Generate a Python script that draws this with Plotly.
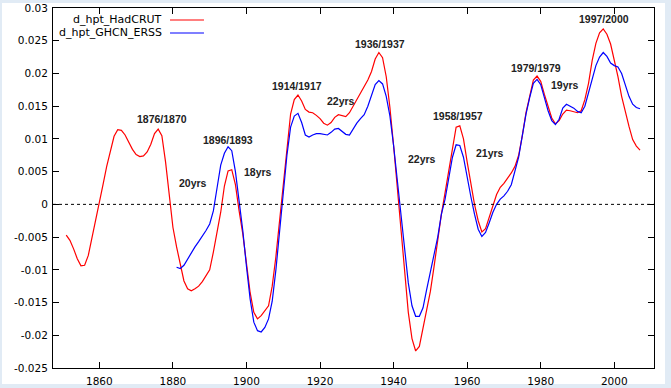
import plotly.graph_objects as go

# HadCRUT (red)
had_years = list(range(1851, 2008))
had_vals = [
    -0.0047, -0.0055, -0.0068, -0.0083, -0.0094, -0.0093, -0.0078, -0.0052, -0.0025, 0.0003,   # 1851-1860
    0.0030, 0.0058, 0.0083, 0.0104, 0.0114, 0.0113, 0.0106, 0.0095, 0.0084, 0.0076,            # 1861-1870
    0.0073, 0.0074, 0.0080, 0.0092, 0.0108, 0.0115, 0.0105, 0.0065, 0.0010, -0.0035,           # 1871-1880
    -0.0065, -0.0092, -0.0117, -0.0129, -0.0132, -0.0129, -0.0125, -0.0118, -0.0110, -0.0100,  # 1881-1890
    -0.0073, -0.0045, -0.0012, 0.0028, 0.0051, 0.0053, 0.0030, -0.0010, -0.0045, -0.0090,      # 1891-1900
    -0.0135, -0.0165, -0.0175, -0.0170, -0.0163, -0.0155, -0.0125, -0.0080, -0.0025, 0.0030,   # 1901-1910
    0.0090, 0.0138, 0.0160, 0.0167, 0.0158, 0.0145, 0.0141, 0.0140, 0.0136, 0.0131,            # 1911-1920
    0.0124, 0.0121, 0.0125, 0.0133, 0.0137, 0.0136, 0.0134, 0.0140, 0.0150, 0.0161,            # 1921-1930
    0.0171, 0.0181, 0.0190, 0.0203, 0.0222, 0.0232, 0.0224, 0.0195, 0.0148, 0.0090,            # 1931-1940
    0.0025, -0.0040, -0.0110, -0.0165, -0.0205, -0.0224, -0.0217, -0.0190, -0.0160, -0.0133,   # 1941-1950
    -0.0095, -0.0052, -0.0015, 0.0018, 0.0050, 0.0088, 0.0118, 0.0120, 0.0100, 0.0065,         # 1951-1960
    0.0030, 0.0000, -0.0025, -0.0042, -0.0037, -0.0020, -0.0003, 0.0015, 0.0026, 0.0032,       # 1961-1970
    0.0040, 0.0048, 0.0058, 0.0075, 0.0105, 0.0140, 0.0165, 0.0190, 0.0196, 0.0188,            # 1971-1980
    0.0168, 0.0148, 0.0132, 0.0123, 0.0128, 0.0138, 0.0144, 0.0143, 0.0142, 0.0140,            # 1981-1990
    0.0143, 0.0160, 0.0185, 0.0220, 0.0246, 0.0262, 0.0268, 0.0260, 0.0245, 0.0222,            # 1991-2000
    0.0195, 0.0165, 0.0140, 0.0119, 0.0099, 0.0089, 0.0083,                                    # 2001-2007
]

# GHCN_ERSS (blue)
ghcn_years = list(range(1881, 2008))
ghcn_vals = [
    -0.0096, -0.0098, -0.0093, -0.0083, -0.0073, -0.0065, -0.0057, -0.0049, -0.0040, -0.0030,  # 1881-1890
    -0.0010, 0.0025, 0.0060, 0.0078, 0.0088, 0.0082, 0.0050, 0.0005, -0.0040, -0.0095,         # 1891-1900
    -0.0145, -0.0180, -0.0193, -0.0195, -0.0188, -0.0175, -0.0148, -0.0100, -0.0045, 0.0015,   # 1901-1910
    0.0075, 0.0118, 0.0135, 0.0139, 0.0125, 0.0106, 0.0103, 0.0106, 0.0108, 0.0108,            # 1911-1920
    0.0107, 0.0106, 0.0110, 0.0115, 0.0116, 0.0112, 0.0107, 0.0106, 0.0116, 0.0124,            # 1921-1930
    0.0131, 0.0137, 0.0150, 0.0168, 0.0183, 0.0189, 0.0184, 0.0165, 0.0135, 0.0090,            # 1931-1940
    0.0035, -0.0020, -0.0075, -0.0120, -0.0155, -0.0171, -0.0171, -0.0158, -0.0130, -0.0105,   # 1941-1950
    -0.0080, -0.0050, -0.0015, 0.0008, 0.0040, 0.0072, 0.0091, 0.0090, 0.0072, 0.0040,         # 1951-1960
    0.0012, -0.0015, -0.0038, -0.0049, -0.0043, -0.0028, -0.0012, 0.0000, 0.0008, 0.0013,      # 1961-1970
    0.0020, 0.0030, 0.0050, 0.0072, 0.0105, 0.0138, 0.0163, 0.0185, 0.0191, 0.0183,            # 1971-1980
    0.0163, 0.0143, 0.0128, 0.0122, 0.0130, 0.0147, 0.0153, 0.0150, 0.0147, 0.0142,            # 1981-1990
    0.0140, 0.0150, 0.0170, 0.0192, 0.0212, 0.0225, 0.0232, 0.0226, 0.0216, 0.0212,            # 1991-2000
    0.0210, 0.0200, 0.0183, 0.0165, 0.0153, 0.0148, 0.0146,                                    # 2001-2007
]

# Peak / period labels
label_texts = ["1876/1870", "20yrs", "1896/1893", "18yrs", "1914/1917", "22yrs",
               "1936/1937", "22yrs", "1958/1957", "21yrs", "1979/1979", "19yrs", "1997/2000"]
label_x = [1876.9, 1885.5, 1895.0, 1903.2, 1913.8, 1925.7,
           1936.4, 1947.6, 1957.5, 1966.2, 1978.6, 1986.5, 1997.1]
label_y = [0.0130, 0.0032, 0.0099, 0.0049, 0.0181, 0.0158,
           0.0245, 0.0069, 0.0135, 0.0078, 0.0208, 0.0183, 0.0283]

x_tickvals = [1860, 1880, 1900, 1920, 1940, 1960, 1980, 2000]
x_ticktext = ["1860", "1880", "1900", "1920", "1940", "1960", "1980", "2000"]
y_tickvals = [0.03, 0.025, 0.02, 0.015, 0.01, 0.005, 0, -0.005, -0.01, -0.015, -0.02, -0.025]
y_ticktext = ["0.03", "0.025", "0.02", "0.015", "0.01", "0.005", "0",
              "-0.005", "-0.01", "-0.015", "-0.02", "-0.025"]

series_names = ["d_hpt_HadCRUT", "d_hpt_GHCN_ERSS"]
series_colors = ["#ff0000", "#0000ff"]

fig = go.Figure()
fig.add_trace(go.Scatter(x=had_years, y=had_vals, mode="lines", name=series_names[0],
                         line=dict(color=series_colors[0], width=1.2)))
fig.add_trace(go.Scatter(x=ghcn_years, y=ghcn_vals, mode="lines", name=series_names[1],
                         line=dict(color=series_colors[1], width=1.2)))

shapes = [
    # white page inside light-blue frame
    dict(type="rect", xref="paper", yref="paper", x0=-0.0849, x1=1.0183, y0=-0.0444, y1=1.0139,
         fillcolor="white", line=dict(width=0), layer="below"),
    # dotted zero axis
    dict(type="line", xref="paper", yref="y", x0=0, x1=1, y0=0, y1=0,
         line=dict(color="black", width=1, dash="dot")),
]

annotations = []
for t, x, y in zip(label_texts, label_x, label_y):
    annotations.append(dict(x=x, y=y, xref="x", yref="y", text="<b>%s</b>" % t, showarrow=False,
                            font=dict(family="Liberation Sans", size=10.5, color="#222222"),
                            xanchor="center", yanchor="middle"))

# manual legend (text right-aligned, line sample to the right)
leg_y = [0.9667, 0.9306]
for name, col, ly in zip(series_names, series_colors, leg_y):
    annotations.append(dict(x=0.1847, y=ly, xref="paper", yref="paper", text=name, showarrow=False,
                            font=dict(family="DejaVu Sans", size=11, color="black"),
                            xanchor="right", yanchor="middle"))
    shapes.append(dict(type="line", xref="paper", yref="paper", x0=0.1947, x1=0.2512, y0=ly, y1=ly,
                       line=dict(color=col, width=1.2)))

axis_common = dict(showline=True, linecolor="black", linewidth=1, mirror="allticks",
                   ticks="inside", ticklen=6, tickcolor="black", showgrid=False, zeroline=False,
                   automargin=False,
                   tickfont=dict(family="DejaVu Sans", size=10.5, color="black"))

fig.update_layout(
    width=671, height=388,
    margin=dict(l=53, r=17, t=8, b=20),
    paper_bgcolor="#e1ebf5", plot_bgcolor="white",
    showlegend=False,
    shapes=shapes, annotations=annotations,
    xaxis=dict(range=[1847.4, 2010.8], tickvals=x_tickvals, ticktext=x_ticktext,
               ticklabelstandoff=3, **axis_common),
    yaxis=dict(range=[-0.025, 0.03], tickvals=y_tickvals, ticktext=y_ticktext,
               ticklabelstandoff=2, **axis_common),
)

fig.write_html("out.html", config={"displayModeBar": False},
               post_script="document.body.style.margin='0';document.body.style.overflow='hidden';")
